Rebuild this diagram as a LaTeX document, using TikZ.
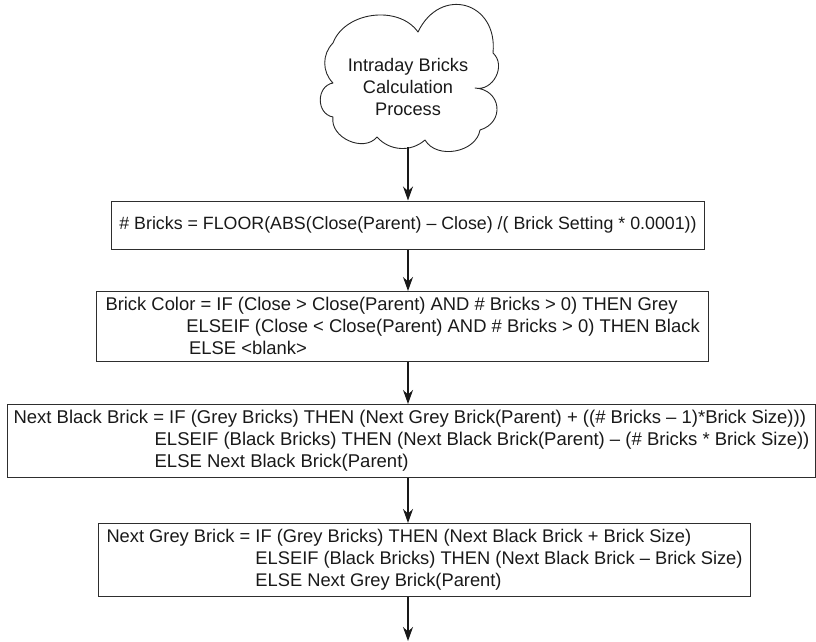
\documentclass[tikz,border=0pt]{standalone}
\usepackage{fontspec}
\setmainfont{Liberation Sans}
\usetikzlibrary{arrows.meta}
\begin{document}
\begin{tikzpicture}[x=1pt,y=-1pt,
  fs/.style={font=\fontsize{#1}{22}\selectfont},
  box/.style={draw=black!82, line width=1pt, text=black!90, align=left, inner ysep=6pt},
  flow/.style={draw=black!90, line width=1.2pt, -{Stealth[length=14pt,width=10pt,inset=4.5pt]}},
  cloudline/.style={draw=black!85, line width=0.9pt, line join=round},
  ]
\useasboundingbox (0,0) rectangle (816,642);
% cloud outline
\draw[cloudline] (333,43) to[bend left=62] (418,32)
  to[bend left=80, looseness=1.7] (493,53)
  to[bend left=75, looseness=1.2] (475,88)
  to[bend left=80, looseness=1.6] (480,130)
  to[bend left=70, looseness=1.05] (425,140)
  to[bend left=45] (377,137)
  to[bend left=75, looseness=1.1] (333,117)
  to[bend left=80, looseness=1.3] (333,83)
  to[bend left=45] (333,43) -- cycle;
\node[fs=18.2, align=center, text=black!90] (cloud) at (408,87) {Intraday Bricks\\Calculation\\Process};
\coordinate (cloudbot) at (408,147);
\node[box, fs=17.8, inner xsep=8pt, minimum height=48pt] (b1) at (408,225)
  {\# Bricks = FLOOR(ABS(Close(Parent) – Close) /( Brick Setting * 0.0001))};
\node[box, fs=18.4, inner xsep=9pt, anchor=north west] (b2) at (96,291)
  {Brick Color = IF (Close > Close(Parent) AND \# Bricks > 0) THEN Grey\\
   \hspace*{4.4em}ELSEIF (Close < Close(Parent) AND \# Bricks > 0) THEN Black\\
   \hspace*{4.55em}ELSE <blank>};
\node[box, fs=18.5, inner xsep=6pt, anchor=north west] (b3) at (7,404)
  {Next Black Brick = IF (Grey Bricks) THEN (Next Grey Brick(Parent) + ((\# Bricks – 1)*Brick Size)))\\
   \hspace*{7.63em}ELSEIF (Black Bricks) THEN (Next Black Brick(Parent) – (\# Bricks * Brick Size))\\
   \hspace*{7.63em}ELSE Next Black Brick(Parent)};
\node[box, fs=18.3, inner xsep=8pt, anchor=north west] (b4) at (98,523)
  {Next Grey Brick = IF (Grey Bricks) THEN (Next Black Brick + Brick Size)\\
   \phantom{Next Grey Brick = }ELSEIF (Black Bricks) THEN (Next Black Brick – Brick Size)\\
   \phantom{Next Grey Brick = }ELSE Next Grey Brick(Parent)};
\coordinate (end) at (408,641);
\draw[flow] (cloudbot) -- (b1.north);
\draw[flow] (b1.south) -- (b1.south |- b2.north);
\draw[flow] (b1.south |- b2.south) -- (b1.south |- b3.north);
\draw[flow] (b1.south |- b3.south) -- (b1.south |- b4.north);
\draw[flow] (b1.south |- b4.south) -- (end);
\end{tikzpicture}
\end{document}
